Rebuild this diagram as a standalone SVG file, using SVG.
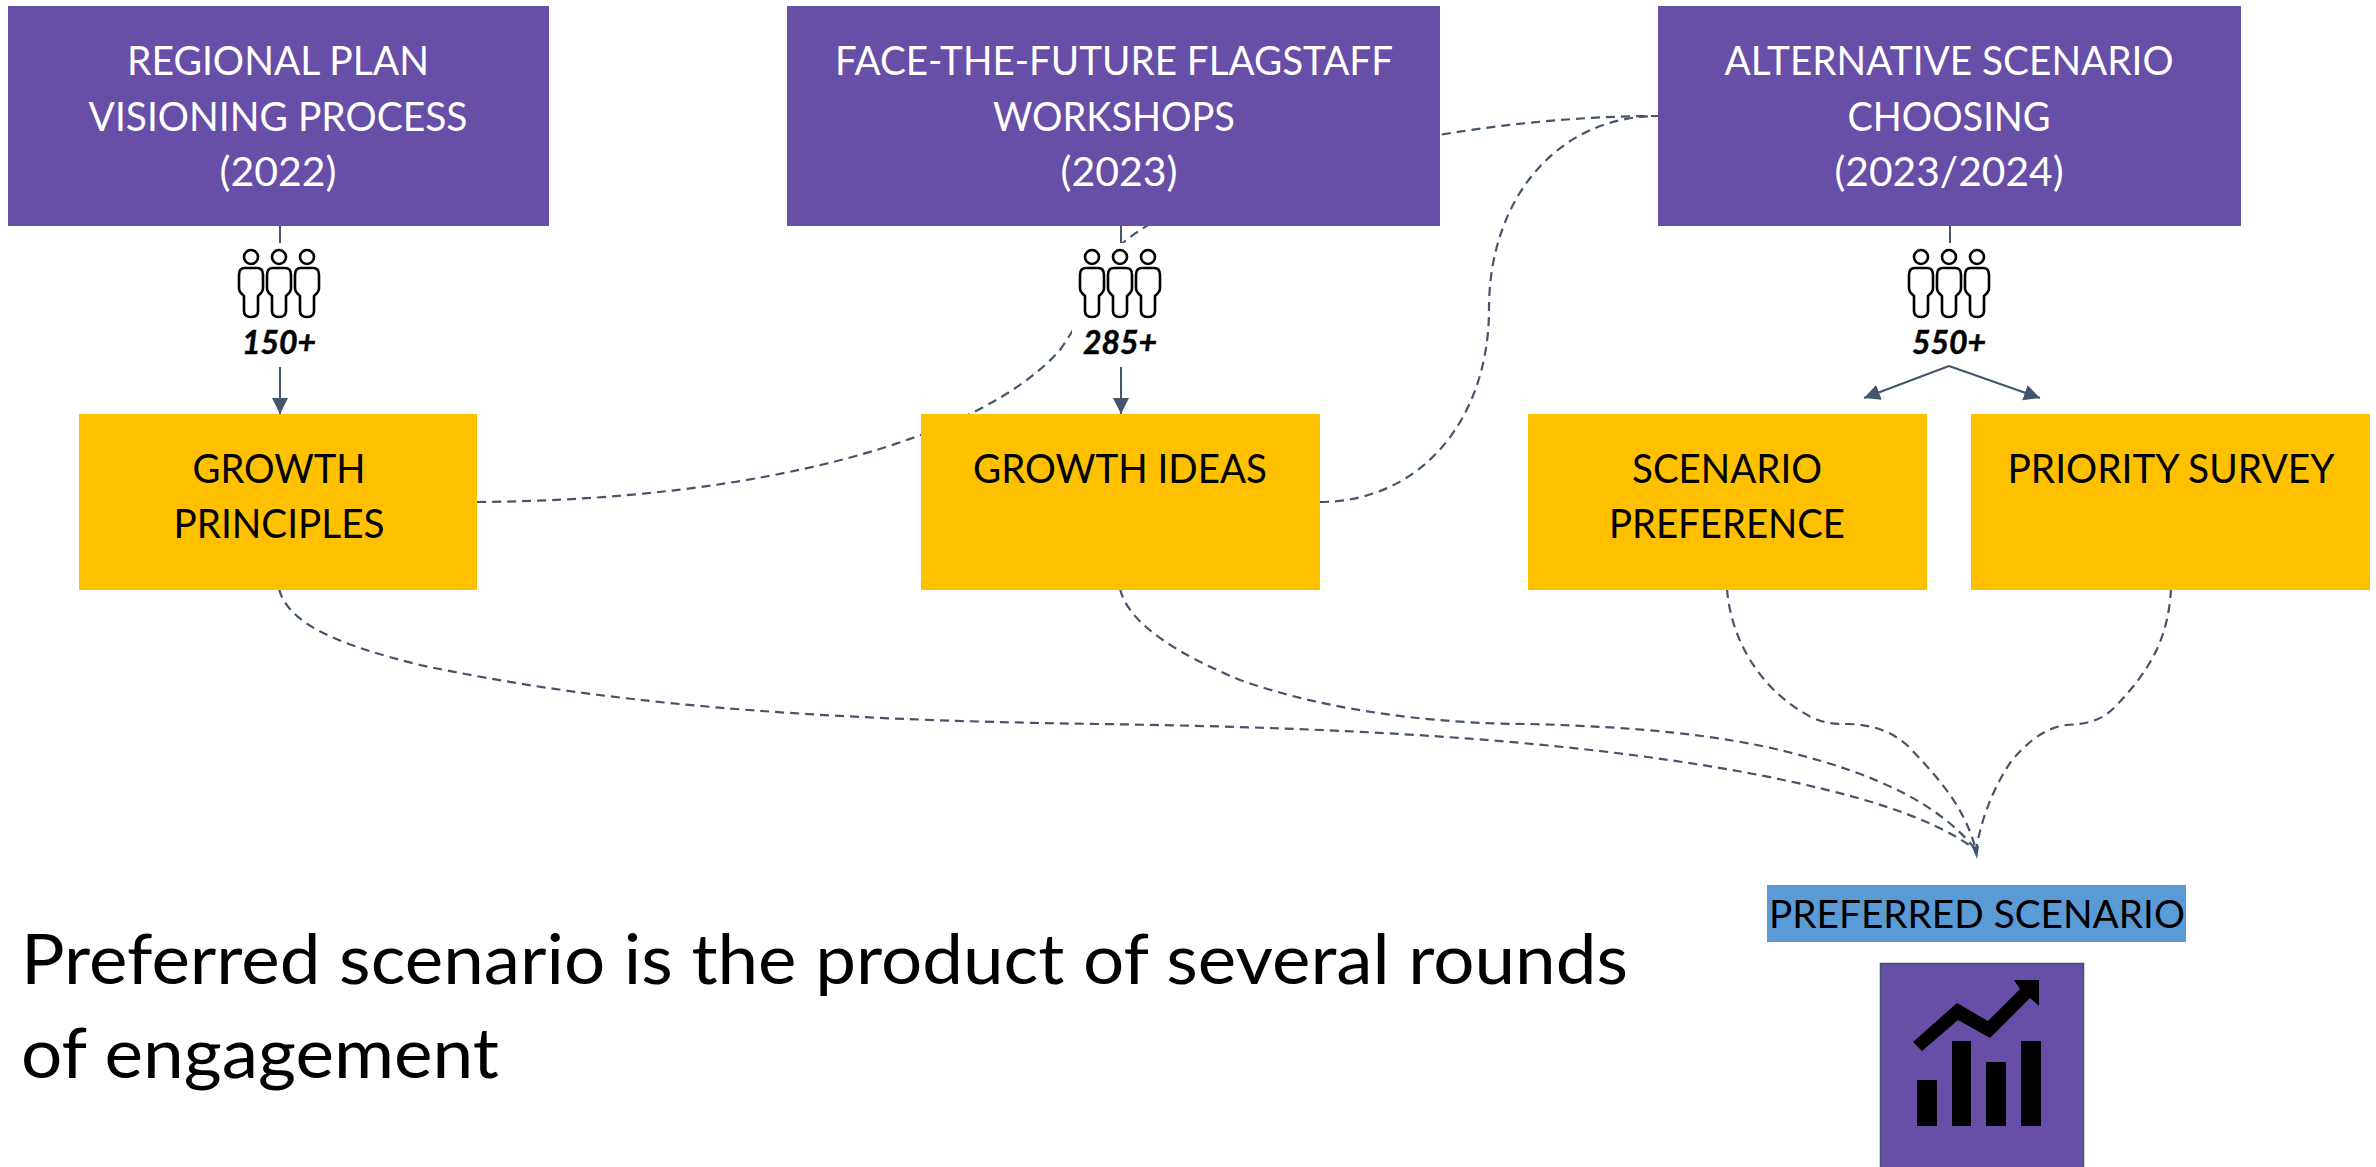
<svg xmlns="http://www.w3.org/2000/svg" width="2376" height="1167" viewBox="0 0 2376 1167">
<style>
.p{fill:#674ea7}.y{fill:#ffc000}
text{font-family:"Lato","Liberation Sans",sans-serif;text-anchor:middle}
.w{fill:#fff;font-size:41px}
.k{fill:#000;font-size:41px}
.n{fill:#000;stroke:#000;stroke-width:.5;font-size:32px;font-weight:700;font-style:italic}
.d{fill:none;stroke:#44546a;stroke-width:2.2;stroke-dasharray:9 6}
.s{fill:none;stroke:#44546a;stroke-width:2}
.m{fill:#000;font-size:70px;text-anchor:start}
.h{fill:none;stroke:#000;stroke-width:2.6}
</style>
<defs>
<marker id="a" markerUnits="userSpaceOnUse" markerWidth="17" markerHeight="17" refX="16" refY="8" orient="auto"><path d="M0,0L16,8L0,16Z" fill="#44546a"/></marker>
<g id="people">
<g class="h"><circle cx="-28" cy="257" r="7"/><path d="M-34,268H-22Q-16,268-16,275V288Q-16,292-20,295L-21,296V311Q-21,317-28,317Q-35,317-35,311V296L-36,295Q-40,292-40,288V275Q-40,268-34,268Z"/></g>
<g class="h"><circle cx="0" cy="257" r="7"/><path d="M-6,268H6Q12,268 12,275V288Q12,292 8,295L7,296V311Q7,317 0,317Q-7,317-7,311V296L-8,295Q-12,292-12,288V275Q-12,268-6,268Z"/></g>
<g class="h"><circle cx="28" cy="257" r="7"/><path d="M22,268H34Q40,268 40,275V288Q40,292 36,295L35,296V311Q35,317 28,317Q21,317 21,311V296L20,295Q16,292 16,288V275Q16,268 22,268Z"/></g>
</g>
</defs>
<rect width="2376" height="1167" fill="#fff"/>
<g id="connectors">
<path class="d" d="M477,502C760,500 980,440 1060,350C1095,300 1100,262 1125,241C1200,180 1440,116 1658,116"/>
<path class="d" d="M1320,502C1420,502 1489,420 1489,309C1489,198 1558,116 1658,116"/>
<path class="d" d="M279,589C289,625 340,645 420,665C600,703 800,720 1100,724C1300,727 1550,735 1759,775C1850,793 1930,815 1976,850"/>
<path class="d" d="M1120,589C1129,625 1180,655 1240,680C1330,712 1440,724 1530,724C1640,727 1720,735 1788,752C1880,775 1940,805 1976,850"/>
<path class="d" d="M1727,589C1731,640 1760,690 1811,717C1825,724 1835,724 1850,724C1875,725 1895,733 1910,748C1945,785 1965,810 1976,850"/>
<path class="d" d="M2171,589C2168,640 2150,670 2115,707C2100,722 2085,724 2066,725C2045,728 2030,740 2012,760C1995,785 1982,815 1976,850"/>
<path d="M1972,847L1979,846L1977,859Z" fill="#44546a"/>
<rect x="1072" y="243" width="100" height="122" fill="#fff"/>
<path class="s" d="M280,226V243M280,367V414" marker-end="url(#a)"/>
<path class="s" d="M1121,226V243M1121,367V414" marker-end="url(#a)"/>
<path class="s" d="M1950,226V243"/>
<path class="s" d="M1949,366L1864,398" marker-end="url(#a)"/>
<path class="s" d="M1949,366L2040,398" marker-end="url(#a)"/>
</g>
<g id="regional"><rect class="p" x="8" y="6" width="541" height="220"/><text class="w" x="278" y="75" textLength="302" lengthAdjust="spacingAndGlyphs">REGIONAL PLAN</text><text class="w" x="278" y="131" textLength="379" lengthAdjust="spacingAndGlyphs">VISIONING PROCESS</text><text class="w" x="278" y="186" textLength="117" lengthAdjust="spacingAndGlyphs">(2022)</text></g>
<g id="face"><rect class="p" x="787" y="6" width="653" height="220"/><text class="w" x="1114" y="75" textLength="558" lengthAdjust="spacingAndGlyphs">FACE-THE-FUTURE FLAGSTAFF</text><text class="w" x="1114" y="131" textLength="242" lengthAdjust="spacingAndGlyphs">WORKSHOPS</text><text class="w" x="1119" y="186" textLength="117" lengthAdjust="spacingAndGlyphs">(2023)</text></g>
<g id="alternative"><rect class="p" x="1658" y="6" width="583" height="220"/><text class="w" x="1949" y="75" textLength="449" lengthAdjust="spacingAndGlyphs">ALTERNATIVE SCENARIO</text><text class="w" x="1949" y="131" textLength="203" lengthAdjust="spacingAndGlyphs">CHOOSING</text><text class="w" x="1949" y="186" textLength="229" lengthAdjust="spacingAndGlyphs">(2023/2024)</text></g>
<g id="people150"><use href="#people" x="279"/><text class="n" x="279" y="354">150+</text></g>
<g id="people285"><use href="#people" x="1120"/><text class="n" x="1120" y="354">285+</text></g>
<g id="people550"><use href="#people" x="1949"/><text class="n" x="1949" y="354">550+</text></g>
<g id="principles"><rect class="y" x="79" y="414" width="398" height="176"/><text class="k" x="279" y="483" textLength="173" lengthAdjust="spacingAndGlyphs">GROWTH</text><text class="k" x="279" y="538" textLength="211" lengthAdjust="spacingAndGlyphs">PRINCIPLES</text></g>
<g id="ideas"><rect class="y" x="921" y="414" width="399" height="176"/><text class="k" x="1120" y="483" textLength="294" lengthAdjust="spacingAndGlyphs">GROWTH IDEAS</text></g>
<g id="preference"><rect class="y" x="1528" y="414" width="399" height="176"/><text class="k" x="1727" y="483" textLength="190" lengthAdjust="spacingAndGlyphs">SCENARIO</text><text class="k" x="1727" y="538" textLength="236" lengthAdjust="spacingAndGlyphs">PREFERENCE</text></g>
<g id="survey"><rect class="y" x="1971" y="414" width="399" height="176"/><text class="k" x="2171" y="483" textLength="327" lengthAdjust="spacingAndGlyphs">PRIORITY SURVEY</text></g>
<g id="preferred"><rect x="1767" y="885" width="419" height="57" fill="#5b9bd5"/><text class="k" x="1977" y="928" textLength="416" lengthAdjust="spacingAndGlyphs" style="font-size:39px">PREFERRED SCENARIO</text></g>
<g id="chart"><rect class="p" x="1880.5" y="963.5" width="203" height="210" stroke="#44546a" stroke-width="1.5"/>
<path d="M1917,1080h20v46h-20zM1952,1041h19v85h-19zM1986,1062h20v64h-20zM2021,1041h20v85h-20zM1913,1042L1957,1003L1988,1021L2020,989L2014,980H2039V1006L2030,998L1990,1038L1958,1020L1922,1051Z" fill="#000"/></g>
<g id="caption"><text class="m" x="21" y="984" textLength="1607" lengthAdjust="spacingAndGlyphs">Preferred scenario is the product of several rounds</text><text class="m" x="21" y="1078" textLength="478" lengthAdjust="spacingAndGlyphs">of engagement</text></g>
</svg>
